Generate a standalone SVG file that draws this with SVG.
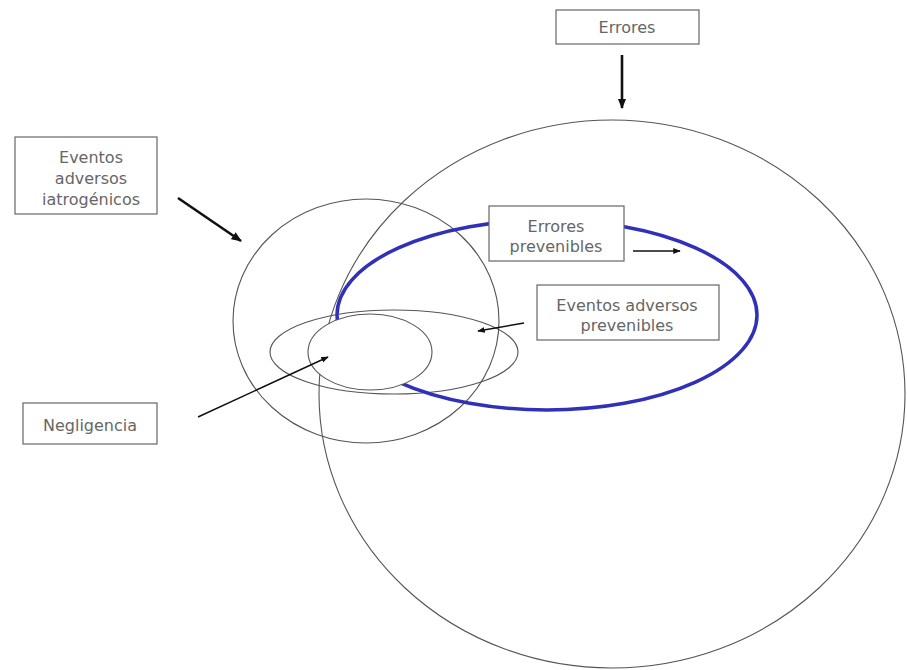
<svg xmlns="http://www.w3.org/2000/svg" width="907" height="670" viewBox="0 0 907 670">
<defs>
<marker id="ah" viewBox="0 0 10 10" refX="9" refY="5" markerWidth="4" markerHeight="4" orient="auto" markerUnits="strokeWidth">
<path d="M0,1 L10,5 L0,9 z" fill="#111"/>
</marker>
<marker id="ahs" viewBox="0 0 10 10" refX="9" refY="5" markerWidth="5" markerHeight="5" orient="auto" markerUnits="strokeWidth">
<path d="M0,1 L10,5 L0,9 z" fill="#111"/>
</marker>
</defs>
<style>
.set{fill:none;stroke:#555;stroke-width:1.1}
.box{fill:#fff;stroke:#666;stroke-width:1.2}
.lbl{font-family:"DejaVu Sans","Liberation Sans",Arial,sans-serif;font-size:16px;fill:#666;text-anchor:middle}
.thick{stroke:#111;stroke-width:2.6;fill:none}
.thin{stroke:#111;stroke-width:1.5;fill:none}
</style>
<rect width="907" height="670" fill="#fff"/>
<g id="sets">
<ellipse id="errores-set" class="set" cx="612" cy="394" rx="293" ry="274"/>
<ellipse id="iatrogenicos-set" class="set" cx="366" cy="321" rx="133" ry="122"/>
<ellipse id="eap-set" class="set" cx="394" cy="352" rx="124" ry="42"/>
<ellipse id="errores-prevenibles-set" cx="547" cy="315" rx="210" ry="95" fill="none" stroke="#3030b8" stroke-width="3.5"/>
<ellipse id="negligencia-set" cx="370" cy="352" rx="62" ry="38" fill="#fff" stroke="#555" stroke-width="1.1"/>
</g>
<g id="connectors">
<line class="thick" x1="622" y1="55" x2="622" y2="108" marker-end="url(#ah)"/>
<line class="thick" x1="178" y1="198" x2="241" y2="241" marker-end="url(#ah)"/>
<line class="thin" x1="633" y1="251" x2="680" y2="251" marker-end="url(#ahs)"/>
<line class="thin" x1="524" y1="323" x2="478" y2="331" marker-end="url(#ahs)"/>
<line class="thin" x1="198" y1="417" x2="328" y2="357" marker-end="url(#ahs)"/>
</g>
<g id="node-errores">
<rect class="box" x="556" y="10" width="143" height="34"/>
<text class="lbl" x="627" y="33">Errores</text>
</g>
<g id="node-iatrogenicos">
<rect class="box" x="15" y="137" width="142" height="77"/>
<text class="lbl" x="91" y="163">Eventos</text>
<text class="lbl" x="91" y="184">adversos</text>
<text class="lbl" x="91" y="205">iatrogénicos</text>
</g>
<g id="node-errores-prevenibles">
<rect class="box" x="489" y="206" width="135" height="55"/>
<text class="lbl" x="556" y="232">Errores</text>
<text class="lbl" x="556" y="252">prevenibles</text>
</g>
<g id="node-eap">
<rect class="box" x="537" y="285" width="182" height="55"/>
<text class="lbl" x="627" y="311">Eventos adversos</text>
<text class="lbl" x="627" y="331">prevenibles</text>
</g>
<g id="node-negligencia">
<rect class="box" x="23" y="403" width="134" height="41"/>
<text class="lbl" x="90" y="431">Negligencia</text>
</g>
</svg>
